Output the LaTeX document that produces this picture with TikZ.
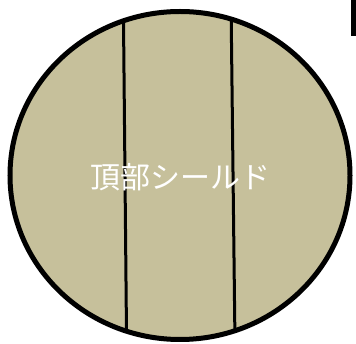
\documentclass[tikz,border=0pt]{standalone}
\usepackage{fontspec}
\newfontfamily\cjk{Noto Sans CJK JP}
\definecolor{shieldfill}{RGB}{198,192,155}
\tikzset{
  divider/.style={draw=black, line width=3pt},
  outline/.style={draw=black, line width=5pt},
  label/.style={text=white, font=\cjk\fontsize{30}{33}\selectfont, inner sep=0pt}
}
\begin{document}
\begin{tikzpicture}[x=1pt,y=-1pt]
\useasboundingbox (0,0) rectangle (356,344);
\fill[shieldfill] (180,175.5) ellipse [x radius=170, y radius=164];
\begin{scope}
  \clip (180,175.5) ellipse [x radius=170, y radius=164];
  \coordinate (l1a) at (123.3,0);
  \coordinate (l1b) at (126.6,344);
  \coordinate (l2a) at (231.0,0);
  \coordinate (l2b) at (235.0,344);
  \draw[divider] (l1a) -- (l1b);
  \draw[divider] (l2a) -- (l2b);
\end{scope}
\draw[outline] (180,175.5) ellipse [x radius=170, y radius=164];
\node[label] (t) at (180.5,177.5) {頂部シールド};
\fill[black] (351,0) rectangle (355.5,36.5);
\end{tikzpicture}
\end{document}
